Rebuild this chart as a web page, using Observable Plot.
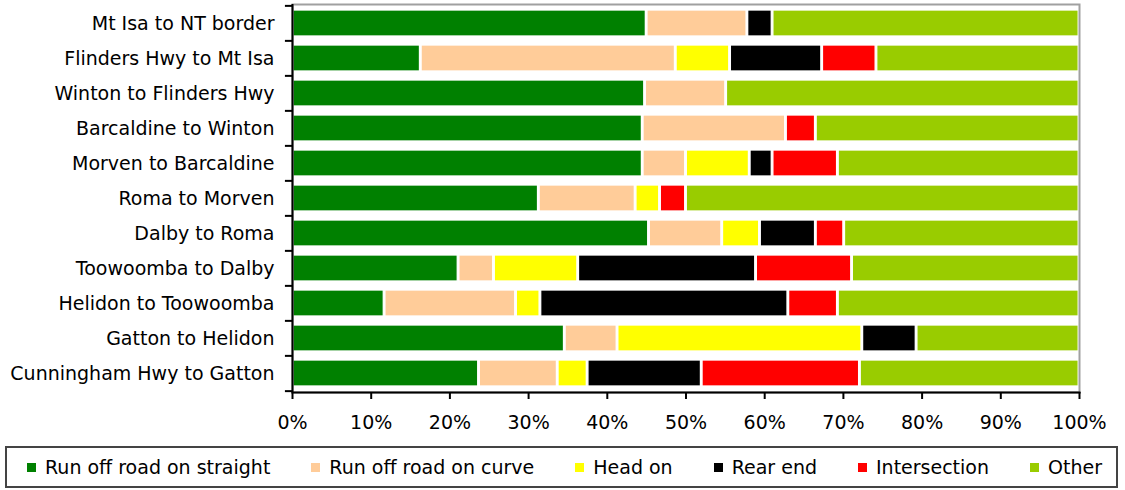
<!DOCTYPE html>
<html>
<head>
<meta charset="utf-8">
<script src="https://cdn.jsdelivr.net/npm/d3@7"></script>
<script src="https://cdn.jsdelivr.net/npm/@observablehq/plot@0.6"></script>
<style>
  html, body { margin: 0; padding: 0; background: #fff; }
  #chart svg { display: block; }
  #legend {
    box-sizing: border-box;
    margin: 6px 0 0 5px;
    width: 1113px; height: 42px;
    border: 2px solid #444;
    display: flex; align-items: center;
    padding-left: 20px; gap: 41px;
    font-family: "DejaVu Sans", sans-serif; font-size: 19px; color: #000;
    white-space: nowrap;
  }
  #legend .item { display: flex; align-items: center; }
  #legend .sw { width: 9px; height: 9px; margin-right: 9px; display: inline-block; }
</style>
</head>
<body>
<div id="chart"></div>
<div id="legend"></div>
<script>
const categories = [
  "Mt Isa to NT border",
  "Flinders Hwy to Mt Isa",
  "Winton to Flinders Hwy",
  "Barcaldine to Winton",
  "Morven to Barcaldine",
  "Roma to Morven",
  "Dalby to Roma",
  "Toowoomba to Dalby",
  "Helidon to Toowoomba",
  "Gatton to Helidon",
  "Cunningham Hwy to Gatton"
];
const seriesNames = ["Run off road on straight", "Run off road on curve", "Head on", "Rear end", "Intersection", "Other"];
const seriesColors = ["#008000", "#FFCC99", "#FFFF00", "#000000", "#FF0000", "#99CC00"];

const runOffStraight = [45.0, 16.3, 44.8, 44.5, 44.5, 31.3, 45.3, 21.1, 11.7, 34.6, 23.7];
const runOffCurve    = [12.8, 32.4, 10.3, 18.2, 5.5, 12.3, 9.3, 4.5, 16.7, 6.7, 10.0];
const headOn         = [0, 6.9, 0, 0, 8.1, 3.1, 4.8, 10.7, 3.1, 31.1, 3.8];
const rearEnd        = [3.2, 11.7, 0, 0, 2.9, 0, 7.1, 22.6, 31.5, 6.9, 14.5];
const intersection   = [0, 6.9, 0, 3.8, 8.3, 3.3, 3.6, 12.2, 6.3, 0, 20.1];
const other          = [39.0, 25.8, 44.9, 33.5, 30.7, 50.0, 29.9, 28.9, 30.7, 20.7, 27.9];

const xTicks = [0, 0.1, 0.2, 0.3, 0.4, 0.5, 0.6, 0.7, 0.8, 0.9, 1];

const seriesValues = [runOffStraight, runOffCurve, headOn, rearEnd, intersection, other];
const rows = seriesNames.flatMap((s, i) =>
  categories.map((c, j) => ({category: c, series: s, value: seriesValues[i][j]})));

const W = 1125, H = 440, mT = 4, mB = 48, mL = 292, mR = 46;
const step = (H - mT - mB) / categories.length;

const chart = Plot.plot({
  width: W, height: H,
  marginTop: mT, marginBottom: mB, marginLeft: mL, marginRight: mR,
  style: {fontFamily: "DejaVu Sans, sans-serif", fontSize: "19px", color: "#000", background: "#fff"},
  x: {domain: [0, 1]},
  y: {domain: categories, paddingInner: 0.27, paddingOuter: 0.135},
  color: {domain: seriesNames, range: seriesColors},
  marks: [
    Plot.barX(rows, Plot.stackX({
      x: "value", y: "category", z: "series", fill: "series",
      offset: "normalize", order: null,
      insetLeft: 0.8, insetRight: 0.8,
      stroke: "#fff", strokeWidth: 1.3
    })),
    Plot.frame({stroke: "#a0a0a0", strokeWidth: 2}),
    Plot.ruleX([0], {stroke: "#000", strokeWidth: 2}),
    Plot.frame({anchor: "bottom", stroke: "#000", strokeWidth: 2}),
    Plot.ruleY(categories, {y: d => d, x1: -0.009, x2: 0, dy: -step / 2, stroke: "#000", strokeWidth: 2}),
    Plot.ruleY(categories.slice(-1), {y: d => d, x1: -0.009, x2: 0, dy: step / 2, stroke: "#000", strokeWidth: 2}),
    Plot.axisX({ticks: xTicks, tickFormat: d3.format(".0%"), tickSize: 7, tickPadding: 16, strokeWidth: 2, label: null}),
    Plot.axisY({tickSize: 0, tickPadding: 18, label: null})
  ]
});
document.getElementById("chart").appendChild(chart);

const legend = document.getElementById("legend");
seriesNames.forEach((s, i) => {
  const item = document.createElement("span");
  item.className = "item";
  const sw = document.createElement("span");
  sw.className = "sw";
  sw.style.background = seriesColors[i];
  item.appendChild(sw);
  item.appendChild(document.createTextNode(s));
  legend.appendChild(item);
});
</script>
</body>
</html>
